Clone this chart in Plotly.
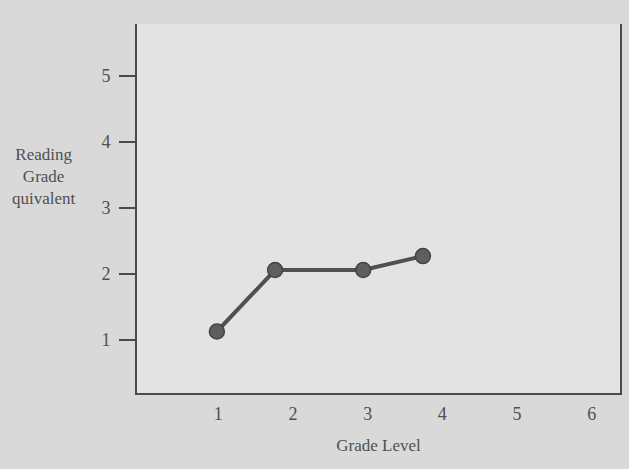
import plotly.graph_objects as go

# Data
grade_level = [0.98, 1.76, 2.94, 3.74]
reading_equiv = [1.13, 2.06, 2.06, 2.27]
x_ticks = [1, 2, 3, 4, 5, 6]
y_ticks = [1, 2, 3, 4, 5]

ink = "#4a4a4a"
txt = "#505050"
font_family = "Liberation Serif"

fig = go.Figure()
fig.add_trace(go.Scatter(
    x=grade_level, y=reading_equiv, mode="lines+markers",
    line=dict(color="#505050", width=4),
    marker=dict(size=15, color="#5e5e5e", line=dict(color="#444444", width=1.5)),
    showlegend=False, hoverinfo="skip",
))

fig.update_layout(
    width=629, height=469,
    margin=dict(l=137, r=7, t=24, b=76),
    paper_bgcolor="#d9d9d9",
    plot_bgcolor="#e3e3e3",
    font=dict(family=font_family, size=17, color=txt),
    xaxis=dict(
        range=[-0.09, 6.38], tickvals=x_ticks, ticktext=[str(v) for v in x_ticks],
        showgrid=False, zeroline=False,
        showline=True, linecolor=ink, linewidth=2, mirror=False,
        ticks="outside", ticklen=3, tickcolor="rgba(0,0,0,0)",
        tickfont=dict(size=18, color=txt),
        title=dict(text="Grade Level", font=dict(size=17, color=txt), standoff=17),
    ),
    yaxis=dict(
        range=[0.2, 5.78], tickvals=y_ticks, ticktext=[str(v) for v in y_ticks],
        showgrid=False, zeroline=False,
        showline=True, linecolor=ink, linewidth=2, mirror=True,
        ticks="outside", ticklen=16, tickwidth=1.5, tickcolor=ink,
        ticklabelstandoff=5,
        tickfont=dict(size=18, color=txt),
    ),
)

fig.add_annotation(
    xref="paper", yref="paper", x=(44 - 137) / 485, y=(393 - 176) / 369,
    text="Reading<br>Grade<br>quivalent", showarrow=False, align="center",
    xanchor="center", yanchor="middle",
    font=dict(family=font_family, size=17, color=txt),
)

fig.write_html("out.html", config={"displayModeBar": False},
               post_script="document.body.style.margin='0';")
